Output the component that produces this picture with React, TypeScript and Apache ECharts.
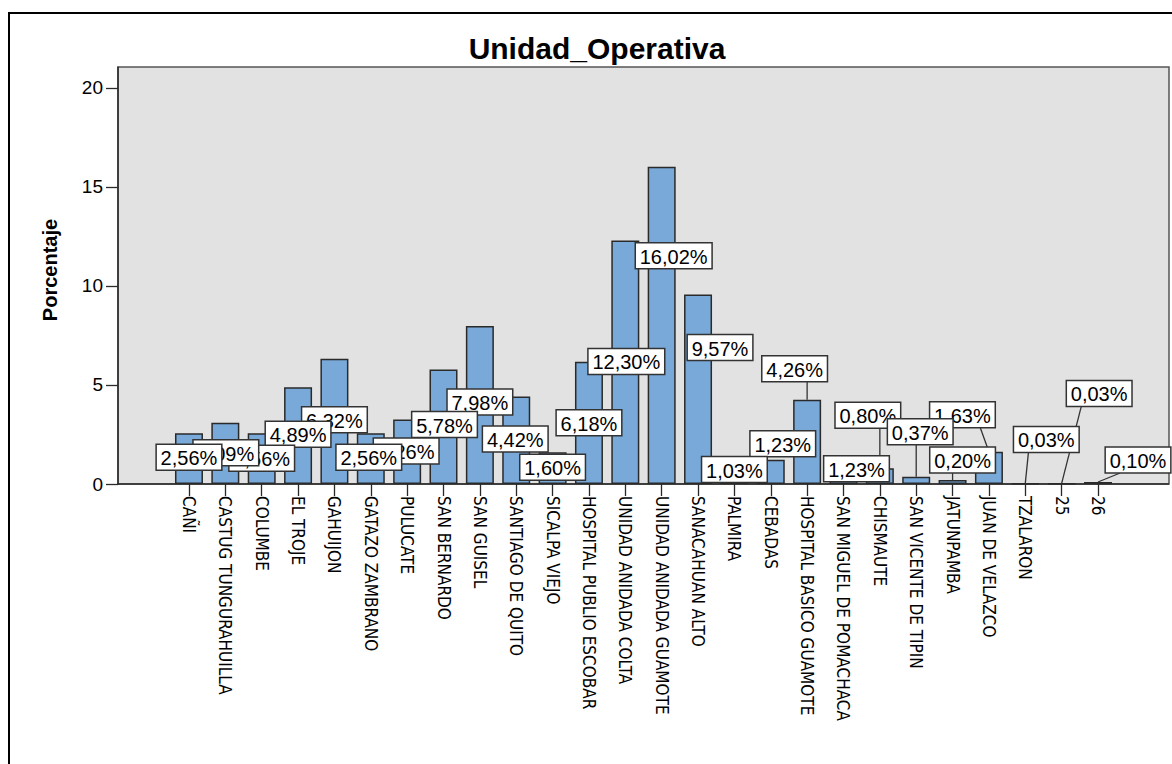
import React, { useEffect, useRef } from "react";
import * as echarts from "echarts";

// Unidad operativa categories (x axis) and their share in percent
const categories: string[] = [
  "CAÑI",
  "CASTUG TUNGURAHUILLA",
  "COLUMBE",
  "EL TROJE",
  "GAHUIJON",
  "GATAZO ZAMBRANO",
  "PULUCATE",
  "SAN BERNARDO",
  "SAN GUISEL",
  "SANTIAGO DE QUITO",
  "SICALPA VIEJO",
  "HOSPITAL PUBLIO ESCOBAR",
  "UNIDAD ANIDADA COLTA",
  "UNIDAD ANIDADA GUAMOTE",
  "SANACAHUAN ALTO",
  "PALMIRA",
  "CEBADAS",
  "HOSPITAL BASICO GUAMOTE",
  "SAN MIGUEL DE POMACHACA",
  "CHISMAUTE",
  "SAN VICENTE DE TIPIN",
  "JATUNPAMBA",
  "JUAN DE VELAZCO",
  "TZALARON",
  "25",
  "26",
];

const percentages: number[] = [
  2.56, 3.09, 2.56, 4.89, 6.32, 2.56, 3.26, 5.78, 7.98, 4.42, 1.6, 6.18, 12.3,
  16.02, 9.57, 1.03, 1.23, 4.26, 1.23, 0.8, 0.37, 0.2, 1.63, 0.03, 0.03, 0.1,
];

const yTicks: number[] = [0, 5, 10, 15, 20];

// Where each value box sits, relative to the top centre of its bar (px)
const labelShift: [number, number][] = [
  [0, 24], [0.5, 30], [0, 25], [0, 47], [0, 61], [-2, 24], [-1, 31.5],
  [1, 55], [0, 76], [-1, 42.5], [0, 15], [0, 61], [1, 121], [12, 89],
  [22, 53], [0, 6], [12, -16], [-12.5, -31], [13, 9], [-12, -53],
  [4, -45], [10, -20], [-26.5, -37], [21, -44], [37.5, -90], [40, -22],
];

// Boxes that get a guide line down to their bar
const guidedLabels = new Set<number>([17, 19, 20, 21, 22, 23, 24, 25]);
// Boxes painted above their neighbours
const raisedLabels = new Set<number>([20]);

const LABEL_FONT = '20px "Liberation Sans", Arial, sans-serif';
const BAR_COLOR = "#78a9d9";

const formatPct = (v: number) => v.toFixed(2).replace(".", ",") + "%";

let measureCtx: CanvasRenderingContext2D | null = null;
const textWidth = (t: string) => {
  if (!measureCtx) {
    measureCtx = document.createElement("canvas").getContext("2d");
  }
  if (!measureCtx) return t.length * 11;
  measureCtx.font = LABEL_FONT;
  return measureCtx.measureText(t).width;
};

export default function App() {
  const ref = useRef<HTMLDivElement>(null);

  useEffect(() => {
    if (!ref.current) return;
    const chart = echarts.init(ref.current, undefined, { renderer: "svg" });

    const option: any = {
      animation: false,
      backgroundColor: "#ffffff",
      grid: { left: 170.8, right: 55.8, top: 67.2, bottom: 280 },
      graphic: [
        {
          type: "rect",
          z: -1,
          shape: { x: 9, y: 13, width: 1300, height: 900 },
          style: { fill: "#ffffff", stroke: "#000000", lineWidth: 2 },
        },
        {
          type: "rect",
          z: -1,
          shape: { x: 118, y: 67, width: 1051, height: 417 },
          style: { fill: "#e2e2e2", stroke: "#555555", lineWidth: 1.5 },
        },
        {
          type: "line",
          z: 1,
          shape: { x1: 118, y1: 484, x2: 1169, y2: 484 },
          style: { stroke: "#2a2a2a", lineWidth: 1.5 },
        },
        {
          type: "text",
          z: 5,
          x: 597,
          y: 48,
          style: {
            text: "Unidad_Operativa",
            font: 'bold 30px "Liberation Sans", Arial, sans-serif',
            fill: "#000",
            align: "center",
            verticalAlign: "middle",
          },
        },
        {
          type: "text",
          z: 5,
          x: 50,
          y: 270,
          rotation: Math.PI / 2,
          style: {
            text: "Porcentaje",
            font: 'bold 20px "Liberation Sans", Arial, sans-serif',
            fill: "#000",
            align: "center",
            verticalAlign: "middle",
          },
        },
      ],
      xAxis: {
        type: "category",
        data: categories,
        boundaryGap: true,
        axisLine: { show: false },
        axisTick: {
          show: true,
          alignWithLabel: true,
          length: 12,
          lineStyle: { color: "#2a2a2a", width: 1.3 },
        },
        axisLabel: {
          interval: 0,
          rotate: -90,
          margin: 12,
          color: "#000",
          fontSize: 17,
          fontFamily: '"Liberation Sans Narrow", "DejaVu Sans Condensed", Arial, sans-serif',
        },
        splitLine: { show: false },
      },
      yAxis: {
        type: "value",
        min: 0,
        max: 21.05,
        offset: 52.8,
        axisLine: { show: true, lineStyle: { color: "#2a2a2a", width: 1.5 } },
        axisTick: {
          show: true,
          length: 12,
          customValues: yTicks,
          lineStyle: { color: "#2a2a2a", width: 1.3 },
        },
        axisLabel: {
          customValues: yTicks,
          margin: 15,
          color: "#000",
          fontSize: 19,
          fontFamily: '"Liberation Sans", Arial, sans-serif',
        },
        splitLine: { show: false },
      },
      series: [
        {
          type: "bar",
          data: percentages,
          barWidth: 28,
          z: 2,
          itemStyle: {
            color: BAR_COLOR,
            borderColor: "#2a2a2a",
            borderWidth: 1.5,
          },
        },
        {
          type: "custom",
          z: 3,
          clip: false,
          data: percentages.map((v, i) => [i, v]),
          encode: { x: 0, y: 1 },
          renderItem: (params: any, api: any) => {
            const i = params.dataIndex;
            const v = percentages[i];
            const [cx, top] = api.coord([i, v]);
            const [dx, dy] = labelShift[i];
            const lx = cx + dx;
            const ly = top + dy;
            const text = formatPct(v);
            const w = textWidth(text) + 9;
            const h = 26;
            const order = raisedLabels.has(i) ? 200 : 100 - i * 2;
            const children: any[] = [];
            if (guidedLabels.has(i)) {
              const sx = Math.min(Math.max(cx, lx - w / 2 + 15), lx + w / 2 - 15);
              children.push({
                type: "line",
                z2: 1,
                shape: { x1: sx, y1: ly + h / 2, x2: cx, y2: top },
                style: { stroke: "#333333", lineWidth: 1.3 },
              });
            }
            children.push({
              type: "rect",
              z2: order,
              shape: { x: lx - w / 2, y: ly - h / 2, width: w, height: h },
              style: { fill: "#ffffff", stroke: "#333333", lineWidth: 1.5 },
            });
            children.push({
              type: "text",
              z2: order + 1,
              style: {
                text,
                x: lx,
                y: ly + 1,
                align: "center",
                verticalAlign: "middle",
                font: LABEL_FONT,
                fill: "#000",
              },
            });
            return { type: "group", children };
          },
        },
      ],
    };

    chart.setOption(option);
    return () => chart.dispose();
  }, []);

  return (
    <div
      ref={ref}
      style={{ position: "fixed", left: 0, top: 0, width: 1172, height: 764 }}
    />
  );
}
